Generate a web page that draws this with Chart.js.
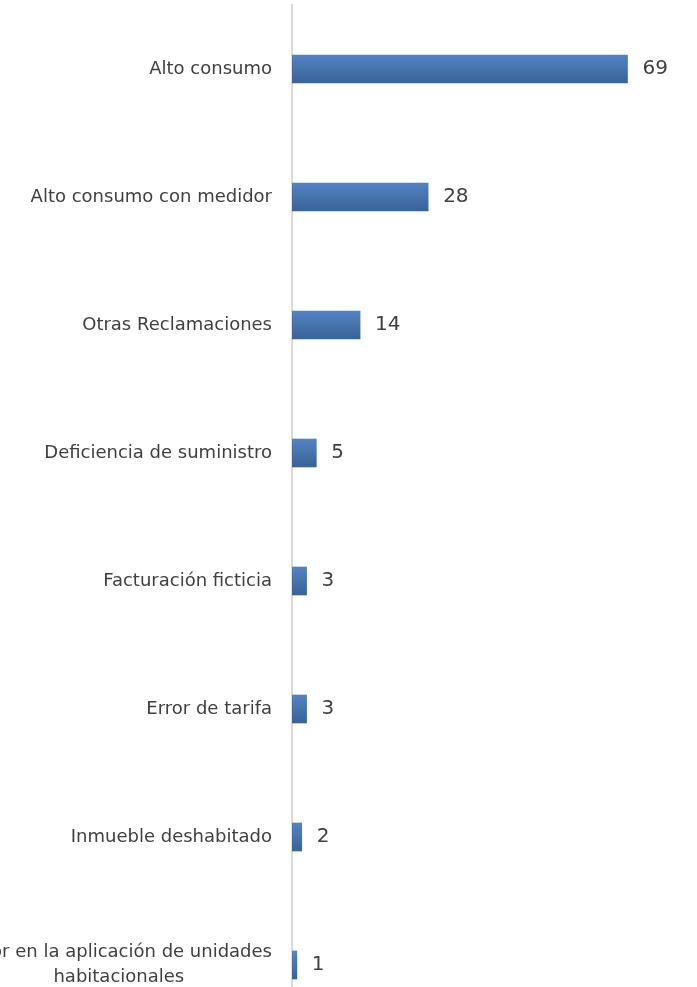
<!DOCTYPE html>
<html>
<head>
<meta charset="utf-8">
<script src="https://cdn.jsdelivr.net/npm/chart.js@4.4.0/dist/chart.umd.min.js"></script>
<style>
  html, body { margin: 0; padding: 0; background: #fff; overflow: hidden; }
  #wrap { position: relative; width: 697px; height: 987px; overflow: hidden; }
  #chart { position: absolute; left: -80px; top: 0; }
</style>
</head>
<body>
<div id="wrap">
  <canvas id="chart" width="777" height="1029"></canvas>
</div>
<script>
// categories and values
const categories = [
  'Alto consumo',
  'Alto consumo con medidor',
  'Otras Reclamaciones',
  'Deficiencia de suministro',
  'Facturación ficticia',
  'Error de tarifa',
  'Inmueble deshabitado',
  ['Error en la aplicación de unidades', 'habitacionales']
]
const values = [69, 28, 14, 5, 3, 3, 2, 1]

const SHIFT = 80 // canvas is moved left so the long label gets clipped like the original
const TEXT = '#404040'
const FONT = '"DejaVu Sans", sans-serif'

const ctx = document.getElementById('chart').getContext('2d')

// vertical gradient for each bar, placed with the y scale
const barFill = (c) => {
  const chart = c.chart
  const y = chart.scales.y
  if (!y || c.dataIndex === undefined) return '#4a77b0'
  const cy = y.getPixelForValue(c.dataIndex)
  if (!isFinite(cy)) return '#4a77b0'
  const g = chart.ctx.createLinearGradient(0, cy - 14, 0, cy + 14)
  g.addColorStop(0, '#5283c2')
  g.addColorStop(1, '#3a6396')
  return g
}

// category labels on the left, multi-line ones centred on themselves
const catLabels = {
  id: 'catLabels',
  afterDraw(chart) {
    const c = chart.ctx
    const y = chart.scales.y
    const right = chart.chartArea.left - 20
    c.save()
    c.font = '18px ' + FONT
    c.fillStyle = TEXT
    c.textBaseline = 'middle'
    categories.forEach((lab, i) => {
      const cy = y.getPixelForValue(i)
      const lines = Array.isArray(lab) ? lab : [lab]
      const lh = 25
      const w = Math.max(...lines.map(l => c.measureText(l).width))
      const cx = right - w / 2
      c.textAlign = 'center'
      lines.forEach((l, k) => {
        c.fillText(l, cx, cy + (k - (lines.length - 1) / 2) * lh)
      })
    })
    c.restore()
  }
}

// value at the end of each bar
const valueLabels = {
  id: 'valueLabels',
  afterDatasetsDraw(chart) {
    const c = chart.ctx
    const meta = chart.getDatasetMeta(0)
    c.save()
    c.font = '20px ' + FONT
    c.fillStyle = TEXT
    c.textAlign = 'left'
    c.textBaseline = 'middle'
    meta.data.forEach((bar, i) => {
      c.fillText(String(values[i]), bar.x + 15, bar.y)
    })
    c.restore()
  }
}

new Chart(ctx, {
  type: 'bar',
  data: {
    labels: categories,
    datasets: [{
      data: values,
      backgroundColor: barFill,
      borderWidth: 0,
      barThickness: 28
    }]
  },
  options: {
    indexAxis: 'y',
    responsive: false,
    animation: false,
    layout: { padding: { top: 5, right: 16, bottom: 0, left: 0 } },
    plugins: { legend: { display: false }, tooltip: { enabled: false } },
    scales: {
      x: {
        display: false,
        min: 0,
        max: 80
      },
      y: {
        grid: { display: false },
        border: { display: true, color: '#d9d9d9', width: 2 },
        ticks: { display: false },
        afterFit(scale) { scale.width = 292 + SHIFT }
      }
    }
  },
  plugins: [catLabels, valueLabels]
})
</script>
</body>
</html>
